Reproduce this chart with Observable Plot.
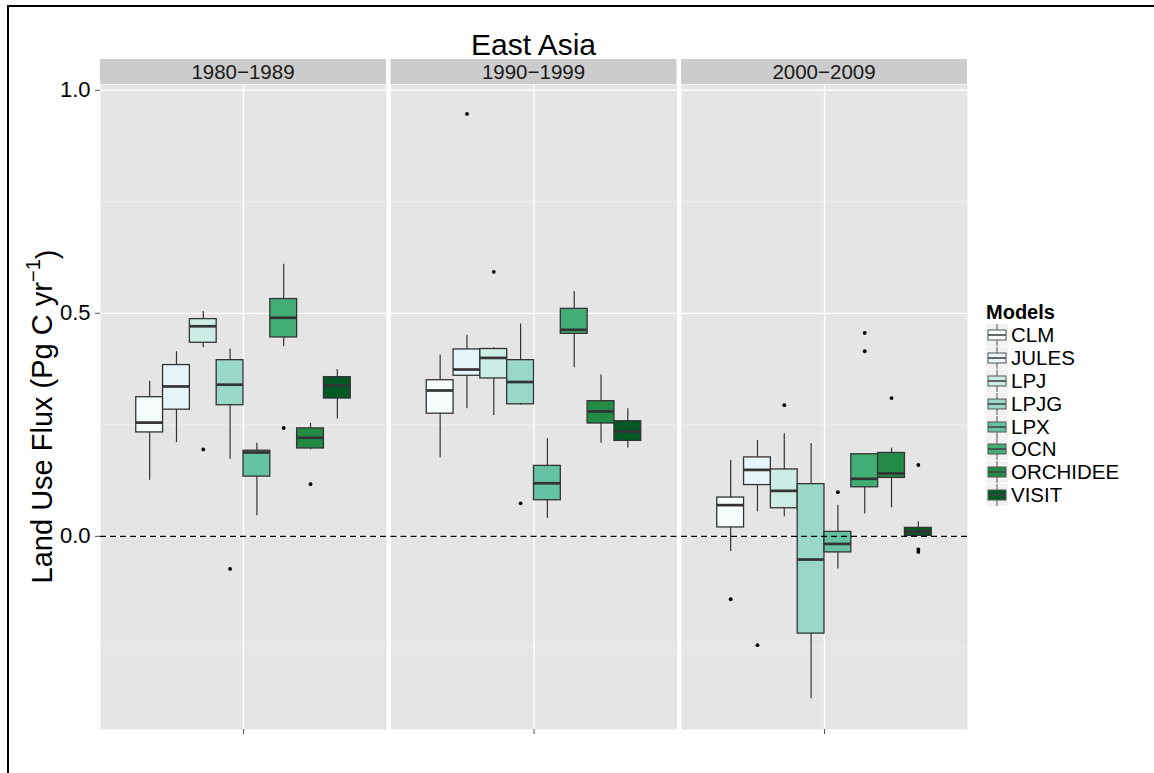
<!DOCTYPE html>
<html>
<head>
<meta charset="utf-8">
<script src="https://cdn.jsdelivr.net/npm/d3@7"></script>
<script src="https://cdn.jsdelivr.net/npm/@observablehq/plot@0.6"></script>
<style>
  html, body { margin: 0; padding: 0; background: #fff; }
  body { width: 1154px; height: 773px; position: relative; overflow: hidden; font-family: "Liberation Sans", Arial, sans-serif; }
  #frame { position: absolute; left: 7px; top: 5px; width: 1300px; height: 1000px; border-left: 2px solid #000; border-top: 2px solid #000; }
  #chart { position: absolute; left: 0; top: 0; }
  #legend { position: absolute; left: 986px; top: 300px; color: #000; }
  #legend .title { font-weight: bold; font-size: 20px; height: 24px; line-height: 24px; }
  #legend .row { display: flex; align-items: center; height: 22.8px; }
  #legend .row span { font-size: 20.5px; margin-left: 3px; }
</style>
</head>
<body>
<div id="frame"></div>
<div id="chart"></div>
<div id="legend"></div>
<script>
// ---- Data ----
const decades = ["1980\u22121989", "1990\u22121999", "2000\u22122009"];
const models = ["CLM", "JULES", "LPJ", "LPJG", "LPX", "OCN", "ORCHIDEE", "VISIT"];
const colors = ["#F7FCFD", "#E5F5F9", "#CCECE6", "#99D8C9", "#66C2A4", "#41AE76", "#238B45", "#005824"];

// per model: [lower whisker, Q1, median, Q3, upper whisker]
const stats1980 = [
  [0.126, 0.233, 0.255, 0.312, 0.348],
  [0.210, 0.284, 0.336, 0.384, 0.414],
  [0.423, 0.434, 0.471, 0.487, 0.504],
  [0.173, 0.294, 0.340, 0.395, 0.420],
  [0.046, 0.134, 0.188, 0.192, 0.209],
  [0.425, 0.446, 0.490, 0.532, 0.610],
  [0.194, 0.197, 0.221, 0.242, 0.253],
  [0.263, 0.309, 0.338, 0.357, 0.374]
];
const stats1990 = [
  [0.176, 0.275, 0.327, 0.350, 0.406],
  [0.286, 0.360, 0.374, 0.419, 0.451],
  [0.271, 0.354, 0.400, 0.420, 0.423],
  [0.294, 0.296, 0.346, 0.395, 0.476],
  [0.040, 0.081, 0.119, 0.158, 0.219],
  [0.378, 0.454, 0.463, 0.510, 0.549],
  [0.209, 0.253, 0.280, 0.303, 0.362],
  [0.198, 0.214, 0.235, 0.258, 0.286]
];
const stats2000 = [
  [-0.034, 0.020, 0.070, 0.087, 0.170],
  [0.055, 0.115, 0.149, 0.177, 0.215],
  [0.044, 0.063, 0.102, 0.150, 0.230],
  [-0.364, -0.218, -0.052, 0.117, 0.208],
  [-0.073, -0.036, -0.017, 0.010, 0.070],
  [0.050, 0.110, 0.129, 0.184, 0.184],
  [0.064, 0.131, 0.141, 0.187, 0.198],
  [0.000, 0.001, 0.011, 0.019, 0.033]
];
const outliers1980 = [["LPJ", 0.195], ["LPJG", -0.073], ["OCN", 0.243], ["ORCHIDEE", 0.117]];
const outliers1990 = [["JULES", 0.947], ["LPJ", 0.593], ["LPJG", 0.074]];
const outliers2000 = [["CLM", -0.141], ["JULES", -0.244], ["LPJ", 0.294], ["LPX", 0.099],
  ["OCN", 0.456], ["OCN", 0.415], ["ORCHIDEE", 0.310], ["VISIT", 0.160], ["VISIT", -0.029], ["VISIT", -0.035]];

const yTicks = [0, 0.5, 1.0];
const yMinor = [-0.25, 0.25, 0.75];
const yDomain = [-0.433, 1.013];

// ---- Build tables ----
const statsByDecade = [stats1980, stats1990, stats2000];
const outByDecade = [outliers1980, outliers1990, outliers2000];
const rows = [];
statsByDecade.forEach((st, di) => st.forEach((s, mi) => rows.push({
  decade: decades[di], model: models[mi], lo: s[0], q1: s[1], med: s[2], q3: s[3], hi: s[4]
})));
const outliers = [];
outByDecade.forEach((os, di) => os.forEach(([m, v]) => outliers.push({decade: decades[di], model: m, v})));

const chart = Plot.plot({
  width: 1154, height: 773,
  marginTop: 84, marginBottom: 44, marginLeft: 100, marginRight: 187,
  style: {fontFamily: "'Liberation Sans', Arial, sans-serif", background: "transparent", color: "#000"},
  fx: {domain: decades, paddingInner: 0.0155, paddingOuter: 0, round: false, axis: null, label: null},
  x: {domain: models, paddingInner: 0, paddingOuter: 4 / 3, round: false, axis: null},
  y: {domain: yDomain, axis: null},
  color: {domain: models, range: colors},
  marks: [
    Plot.frame({fill: "#E5E5E5", stroke: null}),
    Plot.ruleY(yMinor, {stroke: "#F2F2F2", strokeWidth: 0.8}),
    Plot.ruleY(yTicks, {stroke: "#FFFFFF", strokeWidth: 1.4}),
    Plot.ruleX(decades, {fx: d => d, x: null, stroke: "#FFFFFF", strokeWidth: 1.4}),
    Plot.ruleX(rows, {fx: "decade", x: "model", y1: "lo", y2: "hi", stroke: "#333333", strokeWidth: 1.2}),
    Plot.barY(rows, {fx: "decade", x: "model", y1: "q1", y2: "q3", fill: "model", stroke: "#333333", strokeWidth: 1.3}),
    Plot.tickY(rows, {fx: "decade", x: "model", y: "med", stroke: "#333333", strokeWidth: 2.7}),
    Plot.ruleY([0], {stroke: "#000000", strokeDasharray: "6,4", strokeWidth: 1.2}),
    Plot.dot(outliers, {fx: "decade", x: "model", y: "v", r: 1.9, fill: "#000000", stroke: null}),
    Plot.axisY(yTicks, {tickFormat: d3.format(".1f"), tickSize: 5, tickPadding: 5, fontSize: 22, stroke: "#555", label: null}),
    Plot.axisFx({anchor: "bottom", tickSize: 5, tickFormat: () => "", stroke: "#555", label: null})
  ]
});
document.getElementById("chart").appendChild(chart);

// ---- Strips, title, y label (positions from the scales) ----
const svg = d3.select(chart);
const fxS = chart.scale("fx");
const yS = chart.scale("y");
const bw = fxS.bandwidth;
const panelTop = Math.min(...yS.range);
const panelBottom = Math.max(...yS.range);
const stripH = 25;
const strips = svg.append("g");
decades.forEach(d => {
  const x0 = fxS.apply(d);
  strips.append("rect").attr("x", x0).attr("y", panelTop - stripH).attr("width", bw).attr("height", stripH).attr("fill", "#CCCCCC");
  strips.append("text").attr("x", x0 + bw / 2).attr("y", panelTop - stripH / 2).attr("dy", "0.36em")
    .attr("text-anchor", "middle").attr("font-size", 20.5).attr("fill", "#1A1A1A").text(d);
});
const xLeft = fxS.apply(decades[0]);
const xRight = fxS.apply(decades[decades.length - 1]) + bw;
svg.append("text").attr("x", (xLeft + xRight) / 2).attr("y", panelTop - stripH - 4)
  .attr("text-anchor", "middle").attr("font-size", 30).attr("fill", "#000").text("East Asia");
const yl = svg.append("text").attr("transform", `translate(52,${(panelTop + panelBottom) / 2 + 10}) rotate(-90)`)
  .attr("text-anchor", "middle").attr("font-size", 29).attr("fill", "#000");
yl.append("tspan").text("Land Use Flux (Pg C yr");
yl.append("tspan").attr("font-size", 20).attr("dy", "-0.6em").text("\u22121");
yl.append("tspan").attr("dy", "0.6em").text(")");

// ---- Legend ----
const legend = d3.select("#legend");
legend.append("div").attr("class", "title").text("Models");
models.forEach((m, i) => {
  const row = legend.append("div").attr("class", "row");
  const k = row.append("svg").attr("width", 22).attr("height", 22);
  k.append("rect").attr("width", 22).attr("height", 22).attr("fill", "#F2F2F2");
  k.append("line").attr("x1", 11).attr("x2", 11).attr("y1", 0).attr("y2", 22).attr("stroke", "#555").attr("stroke-width", 1);
  k.append("rect").attr("x", 2).attr("y", 6).attr("width", 18).attr("height", 10).attr("fill", colors[i]).attr("stroke", "#555").attr("stroke-width", 1);
  k.append("line").attr("x1", 2).attr("x2", 20).attr("y1", 11).attr("y2", 11).attr("stroke", "#444").attr("stroke-width", 1.6);
  row.append("span").text(m);
});
</script>
</body>
</html>
